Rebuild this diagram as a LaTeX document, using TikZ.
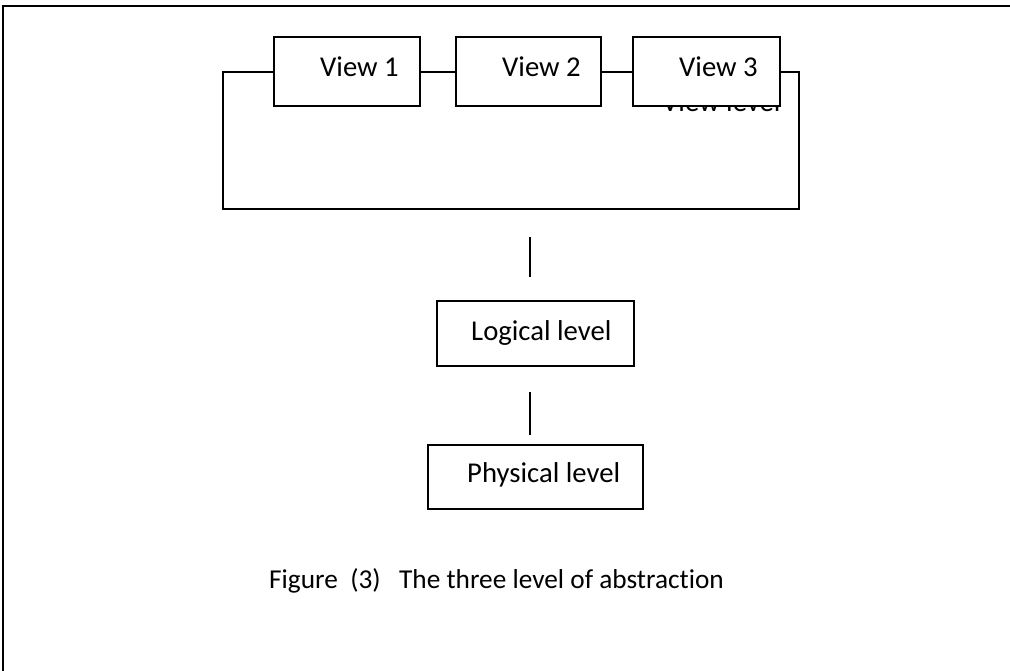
\documentclass[tikz,border=0pt]{standalone}
\usepackage{fontspec}
\setmainfont[Ligatures=NoCommon]{Carlito}
\tikzset{
  txt/.style={anchor=base west, inner sep=0pt, font=\fontsize{28.7}{34}\selectfont},
  captxt/.style={anchor=base west, inner sep=0pt, font=\fontsize{27.3}{32}\selectfont},
  boxline/.style={draw=black, line width=1.4pt},
  viewbox/.style={boxline, fill=white, minimum width=146pt, minimum height=69pt, inner sep=0pt},
  linkline/.style={draw=black, line width=1.4pt},
}
\begin{document}
\begin{tikzpicture}[x=1pt,y=-1pt]
\useasboundingbox (0,0) rectangle (1010,671);
% outer frame (left and top edges)
\draw[line width=2pt] (3,671) -- (3,6) -- (1012,6);
% view level container
\node[txt] (vl) at (662,112) {View level};
\draw[boxline] (223,72) rectangle (799,209);
\node[viewbox] (v1) at (347,71.5) {};
\node[viewbox, minimum width=145pt] (v2) at (528.5,71.5) {};
\node[viewbox, minimum width=147pt] (v3) at (706.5,71.5) {};
\node[txt] (t1) at (320,77) {View 1};
\node[txt] (t2) at (502,77) {View 2};
\node[txt] (t3) at (679,77) {View 3};
% logical level
\node[boxline, minimum width=197pt, minimum height=65pt, inner sep=0pt] (lg) at (535.5,333.5) {};
\node[txt] (lgt) at (471,340) {Logical level};
% physical level
\node[boxline, minimum width=215pt, minimum height=64pt, inner sep=0pt] (ph) at (535.5,477) {};
\node[txt] (pht) at (467,482) {Physical level};
% connectors
\coordinate (a1) at (530,237);
\coordinate (a2) at (530,277);
\coordinate (b1) at (530,392);
\coordinate (b2) at (530,435);
\draw[linkline] (a1) -- (a2);
\draw[linkline] (b1) -- (b2);
% caption
\node[captxt] (cap) at (269,588) {Figure\ \ (3)\ \ \ The three level of abstraction};
\end{tikzpicture}
\end{document}
